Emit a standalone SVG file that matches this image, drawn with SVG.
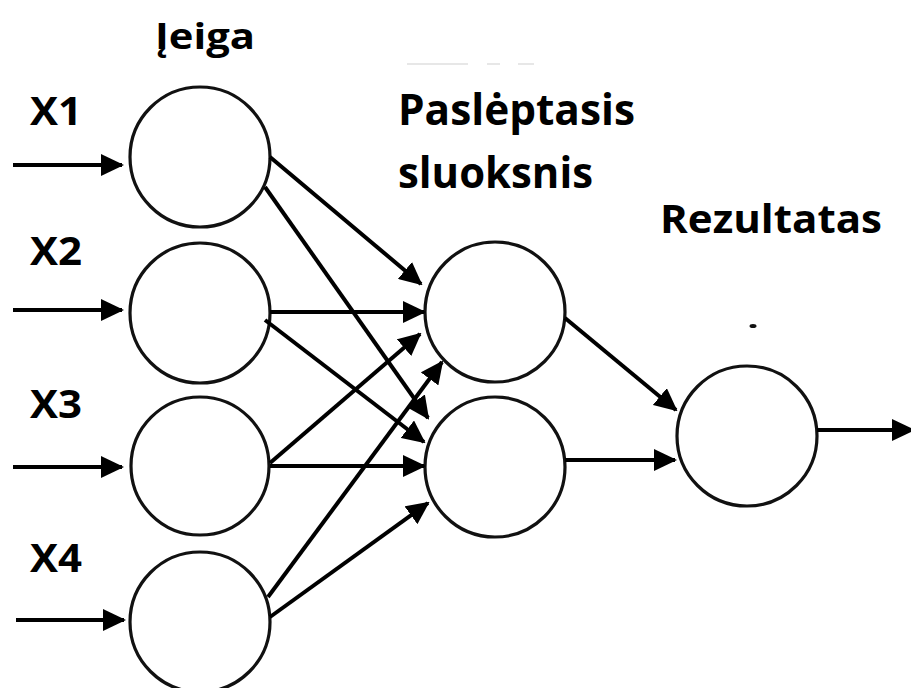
<svg xmlns="http://www.w3.org/2000/svg" width="911" height="688" viewBox="0 0 911 688">
<defs>
<marker id="ah" viewBox="0 0 23 22" refX="21" refY="11" markerWidth="23" markerHeight="22" markerUnits="userSpaceOnUse" orient="auto">
<path d="M0,0 L23,11 L0,22 Z" fill="#000"/>
</marker>
</defs>
<style>
.node{fill:#fff;stroke:#111;stroke-width:3.2}
.edge{stroke:#000;stroke-width:4;fill:none;marker-end:url(#ah)}
.lbl{font-family:"Open Sans","Liberation Sans",sans-serif;font-weight:700;fill:#000}
</style>
<rect width="911" height="688" fill="#fff"/>
<g id="labels">
<text class="lbl" x="155" y="49" font-size="35" textLength="100" lengthAdjust="spacingAndGlyphs">Įeiga</text>
<text class="lbl" x="30" y="125" font-size="39" textLength="52" lengthAdjust="spacingAndGlyphs">X1</text>
<text class="lbl" x="30" y="265" font-size="39" textLength="52" lengthAdjust="spacingAndGlyphs">X2</text>
<text class="lbl" x="30" y="418" font-size="39" textLength="52" lengthAdjust="spacingAndGlyphs">X3</text>
<text class="lbl" x="30" y="572" font-size="39" textLength="52" lengthAdjust="spacingAndGlyphs">X4</text>
<text class="lbl" x="398" y="125" font-size="43" textLength="237" lengthAdjust="spacingAndGlyphs">Paslėptasis</text>
<text class="lbl" x="398" y="188" font-size="43" textLength="195" lengthAdjust="spacingAndGlyphs">sluoksnis</text>
<text class="lbl" x="660" y="233" font-size="39" textLength="222" lengthAdjust="spacingAndGlyphs">Rezultatas</text>
</g>
<g id="marks">
<path d="M407,64 H468 M487,64 H500 M518,64 H534" stroke="#e0e0e0" stroke-width="1.5"/>
<ellipse cx="753" cy="326" rx="3.5" ry="2" fill="#111"/>
</g>
<g id="in1"><circle class="node" cx="200" cy="157" r="70"/></g>
<g id="in2"><circle class="node" cx="200" cy="313" r="70"/></g>
<g id="in3"><circle class="node" cx="200" cy="466" r="69"/></g>
<g id="in4"><circle class="node" cx="200" cy="622" r="70"/></g>
<g id="hidA"><circle class="node" cx="495" cy="312" r="70"/></g>
<g id="hidB"><circle class="node" cx="495" cy="467" r="70"/></g>
<g id="out"><circle class="node" cx="747" cy="436" r="70"/></g>
<g id="connectors">
<line class="edge" x1="13" y1="165" x2="122" y2="165"/>
<line class="edge" x1="13" y1="310" x2="122" y2="310"/>
<line class="edge" x1="13" y1="467" x2="122" y2="467"/>
<line class="edge" x1="16" y1="620" x2="124" y2="620"/>
<line class="edge" x1="270" y1="157" x2="421" y2="284"/>
<line class="edge" x1="265" y1="187" x2="428" y2="418"/>
<line class="edge" x1="270" y1="312" x2="424" y2="312"/>
<line class="edge" x1="265" y1="320" x2="424" y2="442"/>
<line class="edge" x1="270" y1="463" x2="420" y2="334"/>
<line class="edge" x1="270" y1="466" x2="424" y2="466"/>
<line class="edge" x1="268" y1="597" x2="442" y2="362"/>
<line class="edge" x1="270" y1="617" x2="428" y2="503"/>
<line class="edge" x1="565" y1="318" x2="676" y2="410"/>
<line class="edge" x1="565" y1="460" x2="675" y2="460"/>
<line class="edge" x1="817" y1="430" x2="913" y2="430"/>
</g>
</svg>
